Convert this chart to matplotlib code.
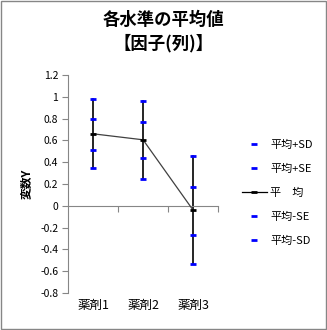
import matplotlib

matplotlib.use("Agg")
import matplotlib.pyplot as plt
from matplotlib.lines import Line2D
from matplotlib.patches import Rectangle

plt.rcParams["font.family"] = ["Noto Sans CJK JP", "DejaVu Sans"]

categories = ["薬剤1", "薬剤2", "薬剤3"]
mean = [0.66, 0.605, -0.04]
plus_sd = [0.975, 0.965, 0.455]
plus_se = [0.795, 0.765, 0.17]
minus_se = [0.515, 0.44, -0.27]
minus_sd = [0.35, 0.245, -0.535]
yticks = [-0.8, -0.6, -0.4, -0.2, 0, 0.2, 0.4, 0.6, 0.8, 1, 1.2]

BLUE = "#0000FF"
GRAY = "#868686"

fig = plt.figure(figsize=(3.27, 3.30), dpi=100)
fig.patches.append(Rectangle((0.002, 0.002), 0.994, 0.994, transform=fig.transFigure,
                             fill=False, edgecolor=GRAY, lw=1.0))

ax = fig.add_axes([0.208, 0.112, 0.459, 0.661])
x = list(range(1, len(categories) + 1))

# SD range as a black vertical bar, SD/SE levels as blue dashes
for xi, lo, hi in zip(x, minus_sd, plus_sd):
    ax.plot([xi, xi], [lo, hi], color="black", lw=1.2, zorder=2)
for series in (plus_sd, plus_se, minus_se, minus_sd):
    ax.plot(x, series, ls="none", marker="_", ms=5, mew=2, color=BLUE, zorder=3)
ax.plot(x, mean, color="#404040", lw=0.9, marker="_", ms=5, mew=2, mec="black", zorder=4)

ax.set_xlim(0.5, 3.5)
ax.set_ylim(-0.8, 1.2)
ax.set_yticks(yticks)
ax.set_yticklabels([f"{v:g}" for v in yticks], fontsize=7.5)
ax.tick_params(axis="y", direction="out", length=4, color=GRAY, pad=3)

# category axis sits on y = 0, labels stay at the bottom
ax.spines["bottom"].set_position(("data", 0))
ax.spines["bottom"].set_color(GRAY)
ax.spines["left"].set_color(GRAY)
ax.spines["top"].set_visible(False)
ax.spines["right"].set_visible(False)
ax.set_xticks([1.5, 2.5, 3.5])
ax.set_xticklabels([])
ax.tick_params(axis="x", direction="out", length=4, color=GRAY)
for xi, name in zip(x, categories):
    ax.text(xi, -0.058, name, transform=ax.get_xaxis_transform(),
            ha="center", va="center", fontsize=9)

ax.set_ylabel("変数Y", fontsize=8.5, fontweight="bold", labelpad=5)

fig.text(0.5, 0.94, "各水準の平均値", ha="center", va="center",
         fontsize=12.5, fontweight="bold")
fig.text(0.5, 0.87, "【因子(列)】", ha="center", va="center",
         fontsize=12.5, fontweight="bold")

handles = [
    Line2D([], [], ls="none", marker="_", ms=5, mew=2, color=BLUE),
    Line2D([], [], ls="none", marker="_", ms=5, mew=2, color=BLUE),
    Line2D([], [], color="black", lw=0.9, marker="_", ms=5, mew=2),
    Line2D([], [], ls="none", marker="_", ms=5, mew=2, color=BLUE),
    Line2D([], [], ls="none", marker="_", ms=5, mew=2, color=BLUE),
]
labels = ["平均+SD", "平均+SE", "平　均", "平均-SE", "平均-SD"]
fig.legend(handles, labels, loc="center left", bbox_to_anchor=(0.725, 0.415),
           frameon=False, fontsize=8, handlelength=2.3, handletextpad=0.3,
           labelspacing=1.25, borderaxespad=0)

fig.savefig("out.png", dpi=100)
